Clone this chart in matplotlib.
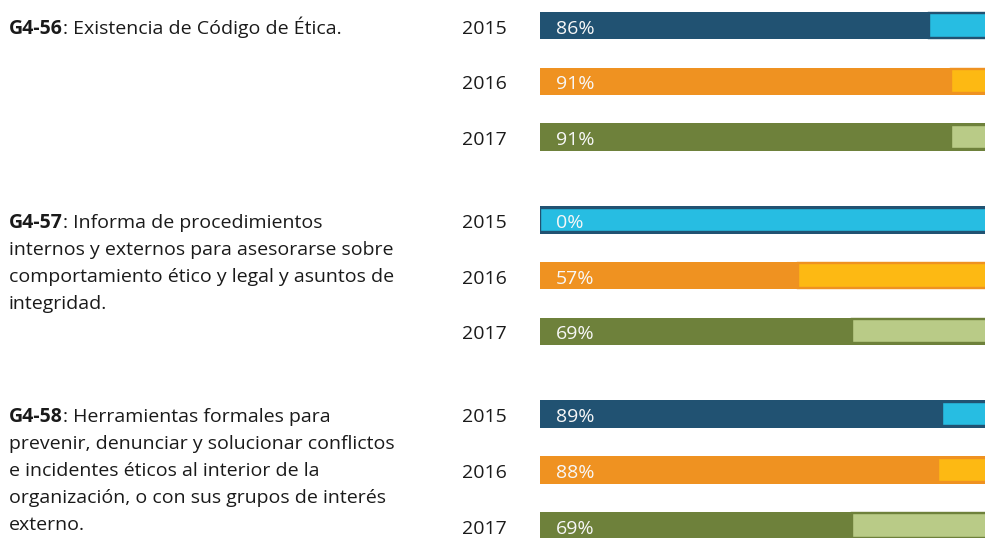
import matplotlib
matplotlib.use('Agg')
import matplotlib.pyplot as plt
from matplotlib import transforms

plt.rcParams['font.family'] = ['Open Sans', 'DejaVu Sans']

# ---- data ----
years = ['2015', '2016', '2017']
codes = ['G4-56', 'G4-57', 'G4-58']
descriptions = [
    [': Existencia de Código de Ética.'],
    [': Informa de procedimientos',
     'internos y externos para asesorarse sobre',
     'comportamiento ético y legal y asuntos de',
     'integridad.'],
    [': Herramientas formales para',
     'prevenir, denunciar y solucionar conflictos',
     'e incidentes éticos al interior de la',
     'organización, o con sus grupos de interés',
     'externo.'],
]
values = [[86, 91, 91], [0, 57, 69], [89, 88, 69]]
dark_colors = ['#215272', '#ef9221', '#6e813b']
light_colors = ['#27bde2', '#fdb913', '#b9cb87']

# ---- layout (pixels) ----
W, H = 985, 538
bar_left_px = 540
full_px = 452
first_center = 25.5
group_step = 194.25
bar_step = 55.75
bar_h = 27.5
line_step = 27.0
baseline_off = 8.0
fs = 14
text_color = '#1a1a1a'

fig = plt.figure(figsize=(W / 100, H / 100), dpi=100)
txt_ax = fig.add_axes([0, 0, 1, 1])
txt_ax.set_xlim(0, W)
txt_ax.set_ylim(H, 0)
txt_ax.axis('off')

bar_ax = fig.add_axes([bar_left_px / W, 0, (W - bar_left_px) / W, 1])
bar_ax.set_xlim(0, 100 * (W - bar_left_px) / full_px)
bar_ax.set_ylim(H, 0)
bar_ax.axis('off')

label_trans = transforms.offset_copy(bar_ax.transData, fig=fig, x=16, y=0, units='dots')
renderer = fig.canvas.get_renderer()

for g in range(len(codes)):
    g_center = first_center + g * group_step
    for i, yr in enumerate(years):
        yc = g_center + i * bar_step
        v = values[g][i]
        bar_ax.barh(yc, 100, height=bar_h, color=dark_colors[i], linewidth=0)
        bar_ax.barh(yc, 100 - v, left=v, height=bar_h - 3.2, color=light_colors[i],
                    edgecolor=dark_colors[i], linewidth=2.4 * 0.72)
        bar_ax.text(0, yc + baseline_off, f'{v}%', transform=label_trans, color='#f7f7f7',
                    fontsize=fs, va='baseline', ha='left')
        txt_ax.text(462, yc + baseline_off, yr, color=text_color, fontsize=fs,
                    va='baseline', ha='left')
    # description
    base = g_center + baseline_off
    t = txt_ax.text(9, base, codes[g], fontsize=fs, fontweight='bold', color=text_color,
                    va='baseline', ha='left')
    bb = t.get_window_extent(renderer)
    txt_ax.text(9 + bb.width, base, descriptions[g][0], fontsize=fs, color=text_color,
                va='baseline', ha='left')
    for k, line in enumerate(descriptions[g][1:], start=1):
        txt_ax.text(9, base + k * line_step, line, fontsize=fs, color=text_color,
                    va='baseline', ha='left')

fig.savefig('out.png', dpi=100, facecolor='white')
